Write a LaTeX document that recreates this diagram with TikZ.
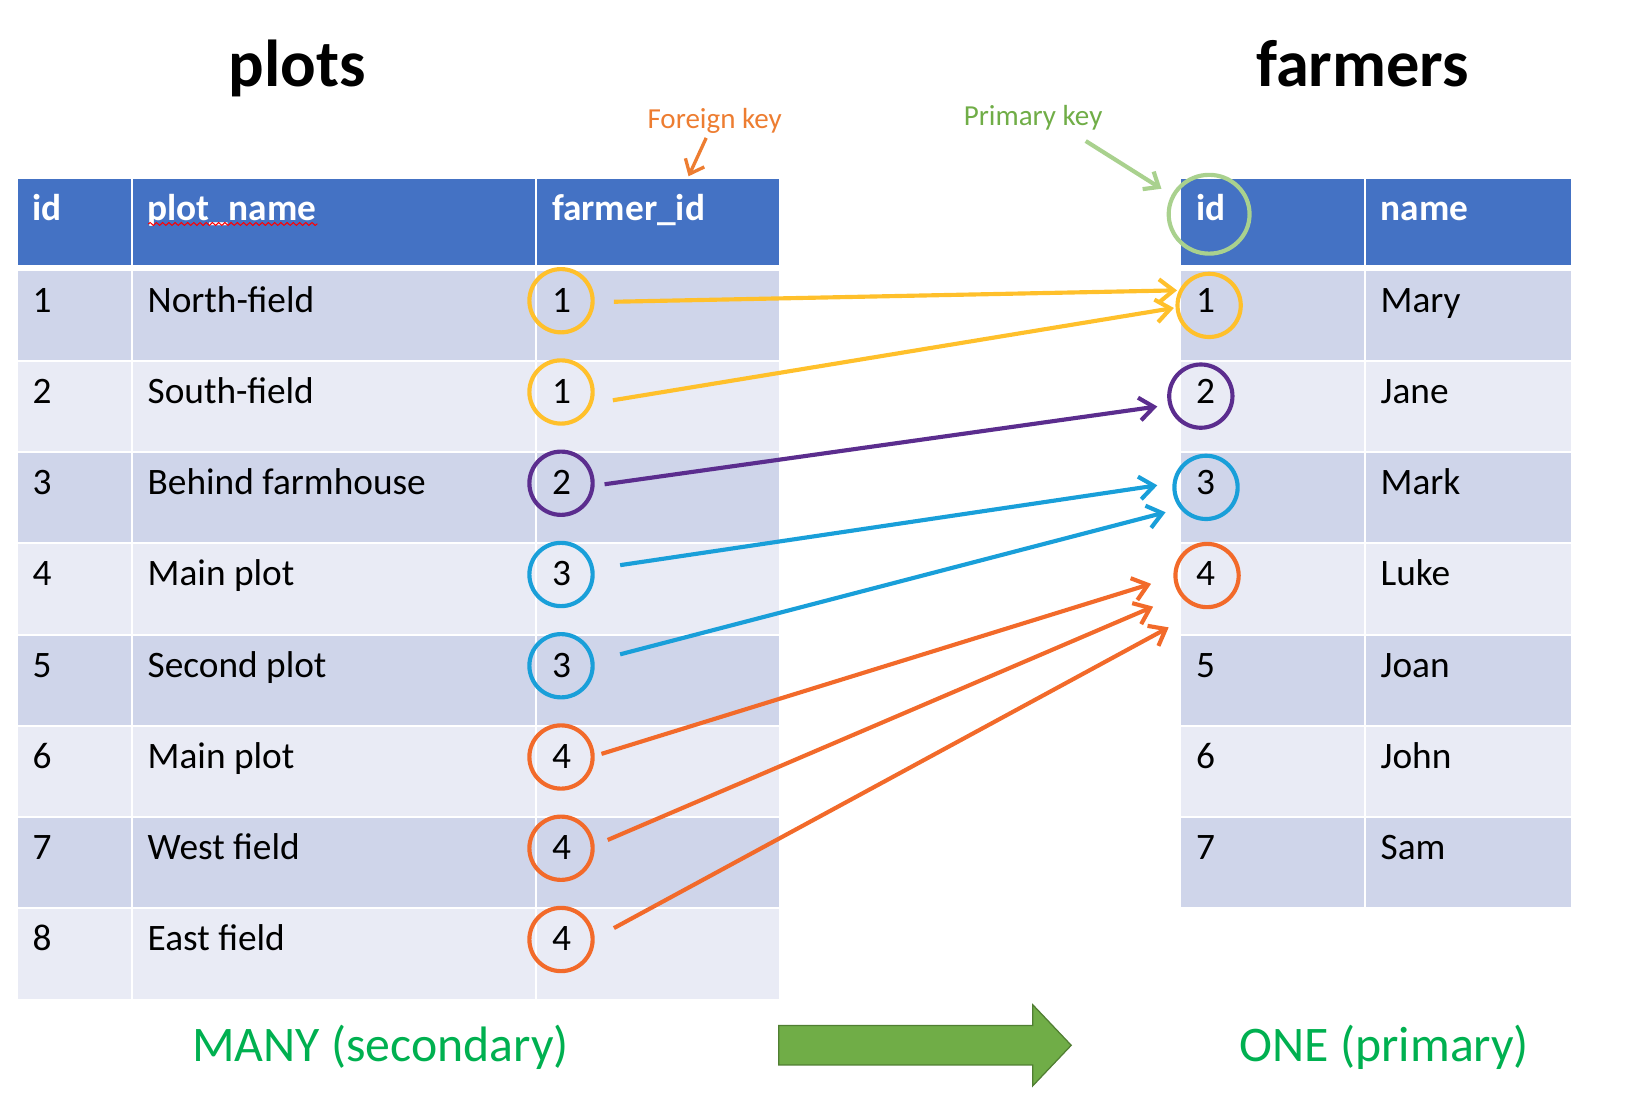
\documentclass[tikz,border=0pt]{standalone}
\usepackage{fontspec}
\setmainfont{Carlito}
\usetikzlibrary{arrows.meta,shapes.geometric,decorations.pathmorphing}
\definecolor{hdr}{HTML}{4472C4}
\definecolor{rowA}{HTML}{CFD5EA}
\definecolor{rowB}{HTML}{E9EBF5}
\definecolor{cyel}{HTML}{FFC02B}
\definecolor{cpur}{HTML}{5B2D8E}
\definecolor{cblu}{HTML}{199FD9}
\definecolor{cora}{HTML}{F26A2A}
\definecolor{cfk}{HTML}{ED7D31}
\definecolor{cpk}{HTML}{70AD47}
\definecolor{cpkl}{HTML}{A9D18E}
\definecolor{cmany}{HTML}{00B050}
\definecolor{bigedge}{HTML}{507E32}
\begin{document}
\begin{tikzpicture}[x=0.5pt,y=-0.5pt,
  tx/.style={anchor=base west, inner sep=0pt, font=\fontsize{18}{21}\selectfont},
  hx/.style={anchor=base west, inner sep=0pt, text=white, font=\fontsize{18}{21}\selectfont\bfseries},
  ttl/.style={anchor=base west, inner sep=0pt, font=\fontsize{32}{38}\selectfont\bfseries},
  note/.style={anchor=base west, inner sep=0pt, font=\fontsize{14}{17}\selectfont},
  big/.style={anchor=base west, inner sep=0pt, text=cmany, font=\fontsize{24}{29}\selectfont},
  ring/.style={ellipse, draw=#1, line width=2pt, minimum width=30.5pt, minimum height=30.5pt, inner sep=0pt},
  link/.style={draw=#1, line width=2pt, -{Straight Barb[length=7pt,width=11pt]}},
  notearrow/.style={draw=#1, line width=1.6pt, -{Straight Barb[length=6pt,width=10pt]}}
]
\useasboundingbox (0,0) rectangle (1568,1068.5);

% ---------- titles ----------
\node[ttl] (tplots) at (220,83.5) {plots};
\node[ttl] (tfarmers) at (1211,83.5) {farmers};

% ---------- left table ----------
\fill[hdr] (17,173) rectangle (751,256);
\foreach \i in {1,...,8}{
  \pgfmathsetmacro\t{261+88*(\i-1)}
  \ifodd\i \fill[rowA] (17,\t) rectangle (751,\t+86);
  \else \fill[rowB] (17,\t) rectangle (751,\t+86); \fi
}
\draw[white, line width=1pt] (127,173) -- (127,963) (517,173) -- (517,963);
\node[hx] (hid) at (31,213) {id};
\node[hx] (hname) at (142,213) {plot\_name};
\node[hx] (hfk) at (532,213) {farmer\_id};
\draw[red, line width=0.5pt, decorate, decoration={snake, amplitude=0.7pt, segment length=3pt}] (143,216) -- (306,216);
\foreach \i/\nm/\f in {1/North-field/1, 2/South-field/1, 3/Behind farmhouse/2, 4/Main plot/3,
                       5/Second plot/3, 6/Main plot/4, 7/West field/4, 8/East field/4}{
  \pgfmathsetmacro\b{301+88*(\i-1)}
  \node[tx] (lid\i) at (31,\b) {\i};
  \node[tx] (lname\i) at (142,\b) {\nm};
  \node[tx] (lfk\i) at (532,\b) {\f};
}

% ---------- right table ----------
\fill[hdr] (1139,173) rectangle (1515,256);
\foreach \i in {1,...,7}{
  \pgfmathsetmacro\t{261+88*(\i-1)}
  \ifodd\i \fill[rowA] (1139,\t) rectangle (1515,\t+86);
  \else \fill[rowB] (1139,\t) rectangle (1515,\t+86); \fi
}
\draw[white, line width=1pt] (1316,173) -- (1316,875);
\node[hx] (rhid) at (1153,213) {id};
\node[hx] (rhname) at (1331,213) {name};
\foreach \i/\nm in {1/Mary, 2/Jane, 3/Mark, 4/Luke, 5/Joan, 6/John, 7/Sam}{
  \pgfmathsetmacro\b{301+88*(\i-1)}
  \node[tx] (rid\i) at (1153,\b) {\i};
  \node[tx] (rname\i) at (1331,\b) {\nm};
}

% ---------- rings ----------
\foreach \i/\c in {1/cyel,2/cyel,3/cpur,4/cblu,5/cblu,6/cora,7/cora,8/cora}{
  \pgfmathsetmacro\cy{290+88*(\i-1)}
  \node[ring=\c] (fk\i) at (541,\cy) {};
}
\node[ring=cpkl, minimum width=39pt, minimum height=38pt] (pkh) at (1166,206.6) {};
\node[ring=cyel] (pk1) at (1166,294.5) {};
\node[ring=cpur] (pk2) at (1158,382) {};
\node[ring=cblu] (pk3) at (1163,470) {};
\node[ring=cora] (pk4) at (1164,555) {};

% ---------- link end points ----------
\coordinate (s1) at (592,291);  \coordinate (e1) at (1135,280);
\coordinate (s2) at (591,386);  \coordinate (e2) at (1132,297);
\coordinate (s3) at (583,467);  \coordinate (e3) at (1116,392);
\coordinate (s4) at (598,545);  \coordinate (e4) at (1116,468);
\coordinate (s5) at (598,631);  \coordinate (e5) at (1124,494);
\coordinate (s6) at (580,727);  \coordinate (e6) at (1110,563);
\coordinate (s7) at (586,810);  \coordinate (e7) at (1112,585);
\coordinate (s8) at (592,895);  \coordinate (e8) at (1127,605);
\draw[link=cyel] (s1) -- (e1);
\draw[link=cyel] (s2) -- (e2);
\draw[link=cpur] (s3) -- (e3);
\draw[link=cblu] (s4) -- (e4);
\draw[link=cblu] (s5) -- (e5);
\draw[link=cora] (s6) -- (e6);
\draw[link=cora] (s7) -- (e7);
\draw[link=cora] (s8) -- (e8);

% ---------- key notes ----------
\node[note, text=cfk] (fknote) at (624,124) {Foreign key};
\coordinate (fka) at (681,133); \coordinate (fkb) at (664,170);
\draw[notearrow=cfk] (fka) -- (fkb);
\node[note, text=cpk] (pknote) at (929,121) {Primary key};
\coordinate (pka) at (1047,136); \coordinate (pkb) at (1120,182);
\draw[notearrow=cpkl, line width=2pt] (pka) -- (pkb);

% ---------- bottom ----------
\node[big] (many) at (185,1024) {MANY (secondary)};
\node[big] (one) at (1195,1024) {ONE (primary)};
\draw[fill=cpk, draw=bigedge, line width=0.6pt]
  (751,989) -- (996,989) -- (996,969) -- (1033,1008) -- (996,1047) -- (996,1027) -- (751,1027) -- cycle;
\end{tikzpicture}
\end{document}
